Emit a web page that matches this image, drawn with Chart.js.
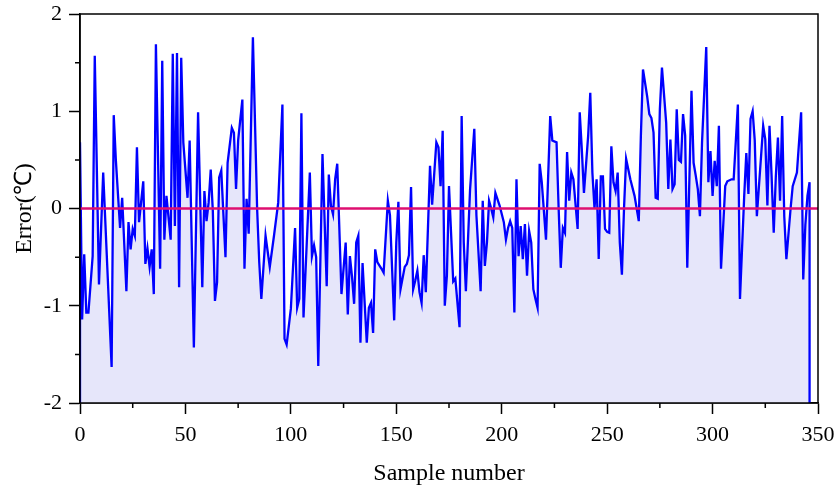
<!DOCTYPE html>
<html>
<head>
<meta charset="utf-8">
<script src="https://cdn.jsdelivr.net/npm/chart.js@4.4.1/dist/chart.umd.min.js"></script>
<style>
  html, body { margin: 0; padding: 0; background: #ffffff; }
  #wrap { width: 838px; height: 495px; }
</style>
</head>
<body>
<div id="wrap"><canvas id="c" width="838" height="495"></canvas></div>
<script>
// ---- Data ----
const sampleIdx = [
  0, 0, 1, 2, 3, 4, 6, 7, 9, 11, 15, 16, 17, 19, 20, 22, 23, 24, 25, 26, 27, 28, 30, 31, 32, 33, 34, 35,
  36, 38, 39, 40, 41, 43, 44, 45, 46, 47, 48, 49, 51, 52, 54, 56, 58, 59, 60, 61, 62, 63, 64, 65, 66, 67, 69,
  70, 72, 73, 74, 75, 77, 78, 79, 80, 82, 84, 85, 86, 88, 90, 92, 94, 96, 97, 98, 100, 102, 103, 104,
  105, 106, 109, 110, 111, 112, 113, 115, 117, 118, 119, 120, 121, 122, 124, 126, 127, 128, 129, 130,
  131, 132, 133, 134, 136, 137, 138, 139, 140, 141, 143, 144, 146, 147, 149, 150, 151, 152, 154, 155,
  156, 157, 158, 159, 160, 161, 162, 163, 164, 166, 167, 169, 170, 171, 172, 173, 174, 175, 177, 178,
  180, 181, 182, 183, 185, 187, 188, 190, 191, 192, 193, 194, 195, 196, 197, 199, 201, 202, 203, 204,
  205, 206, 207, 208, 209, 210, 211, 212, 213, 214, 215, 216, 217, 218, 219, 221, 223, 224, 226, 227,
  228, 229, 230, 231, 232, 233, 234, 236, 237, 238, 239, 241, 242, 243, 244, 245, 246, 247, 248, 249,
  250, 251, 252, 253, 254, 255, 256, 257, 258, 259, 261, 263, 265, 266, 267, 269, 270, 271, 272, 273,
  274, 275, 276, 278, 279, 280, 281, 282, 283, 284, 285, 286, 287, 288, 290, 291, 292, 293, 294, 295,
  297, 298, 299, 300, 301, 302, 303, 304, 306, 307, 309, 310, 312, 313, 315, 316, 317, 318, 319, 320,
  321, 323, 324, 325, 326, 327, 328, 329, 330, 331, 332, 333, 334, 335, 337, 338, 340, 341, 342, 343,
  344, 345, 346, 346
];
const errorVals = [
  -2, 0.68, -1.14, -0.47, -1.07, -1.07, -0.49, 1.57, -0.78, 0.37, -1.63, 0.96, 0.5, -0.2, 0.11, -0.85, -0.14, -0.42, -0.21, -0.28, 0.63, -0.14, 0.28, -0.57, -0.41, -0.6, -0.42, -0.88,
  1.69, -0.62, 1.52, -0.32, 0.13, -0.32, 1.59, -0.18, 1.6, -0.81, 1.55, 0.68, 0.11, 0.7, -1.43, 0.99, -0.81, 0.18, -0.13, 0.06, 0.4, -0.03, -0.95, -0.76, 0.32, 0.39, -0.5,
  0.47, 0.83, 0.78, 0.2, 0.7, 1.12, -0.62, 0.1, -0.26, 1.76, 0.0, -0.55, -0.93, -0.28, -0.6, -0.28, 0.06, 1.07, -1.34, -1.4, -1.03, -0.2, -1.02, -0.93,
  0.98, -1.12, 0.37, -0.49, -0.38, -0.5, -1.62, 0.56, -0.8, 0.35, 0.03, -0.06, 0.3, 0.46, -0.88, -0.35, -1.09, -0.49, -0.7, -0.98,
  -0.35, -0.28, -1.38, -0.56, -1.38, -1.02, -0.97, -1.28, -0.42, -0.55, -0.62, -0.66, 0.08, -0.07, -1.15, -0.35, 0.07, -0.83, -0.6, -0.57,
  -0.48, 0.22, -0.83, -0.74, -0.64, -0.86, -0.97, -0.48, -0.86, 0.44, 0.04, 0.68, 0.63, 0.23, 0.8, -1.0, -0.69, 0.23, -0.75, -0.72,
  -1.22, 0.95, -0.35, -0.85, 0.2, 0.82, -0.07, -0.85, 0.08, -0.59, -0.35, 0.08, 0.0, -0.09, 0.16, 0.03, -0.14, -0.32, -0.2, -0.13,
  -0.2, -1.07, 0.3, -0.49, -0.18, -0.52, -0.16, -0.69, -0.23, -0.35, -0.83, -0.93, -1.02, 0.46, 0.27, -0.32, 0.95, 0.7, 0.68, 0.0,
  -0.61, -0.2, -0.25, 0.58, 0.08, 0.37, 0.3, -0.21, 0.99, 0.6, 0.16, 0.75, 1.19, 0.37, 0.0, 0.3, -0.52, 0.33, 0.33, -0.21,
  -0.24, -0.25, 0.64, 0.27, 0.18, 0.37, -0.35, -0.68, 0.0, 0.51, 0.3, 0.13, -0.13, 0.75, 1.43, 1.15, 0.97, 0.93, 0.78, 0.11,
  0.1, 1.02, 1.45, 0.88, 0.2, 0.71, 0.2, 0.25, 1.02, 0.5, 0.48, 0.97, 0.75, -0.61, 1.21, 0.47, 0.34, 0.2, -0.08, 0.68,
  1.66, 0.27, 0.59, 0.13, 0.49, 0.23, 0.85, -0.62, 0.23, 0.28, 0.3, 0.3, 1.07, -0.93, 0.13, 0.57, 0.15, 0.92, 1.0, 0.7,
  -0.08, 0.54, 0.85, 0.71, 0.03, 0.85, 0.33, -0.25, 0.33, 0.73, 0.08, 0.95, -0.08, -0.52, 0.0, 0.23, 0.37, 0.68, 0.99, -0.73,
  -0.17, 0.13, 0.27, -2
];
const zeroLineX = [0, 350];
const zeroLineY = [0, 0];
const xTickValues = [0, 50, 100, 150, 200, 250, 300, 350];
const xMinorTicks = [25, 75, 125, 175, 225, 275, 325];
const yTickValues = [-2, -1, 0, 1, 2];
const yMinorTicks = [-1.5, -0.5, 0.5, 1.5];
const xTitle = 'Sample number';
const yTitle = 'Error(℃)';

const errorData = sampleIdx.map((x, i) => ({ x: x, y: errorVals[i] }));
const zeroData = zeroLineX.map((x, i) => ({ x: x, y: zeroLineY[i] }));

const FONT = '"Liberation Serif", "Times New Roman", serif';

const framePlugin = {
  id: 'frame',
  afterDraw(chart) {
    const { ctx, chartArea: a, scales } = chart;
    ctx.save();
    ctx.strokeStyle = '#000';
    ctx.lineWidth = 1.5;
    ctx.strokeRect(a.left, a.top, a.right - a.left, a.bottom - a.top);
    // minor ticks
    ctx.beginPath();
    xMinorTicks.forEach(v => {
      const px = scales.x.getPixelForValue(v);
      ctx.moveTo(px, a.bottom);
      ctx.lineTo(px, a.bottom + 5);
    });
    yMinorTicks.forEach(v => {
      const py = scales.y.getPixelForValue(v);
      ctx.moveTo(a.left, py);
      ctx.lineTo(a.left - 5, py);
    });
    ctx.stroke();
    ctx.restore();
  }
};

new Chart(document.getElementById('c'), {
  type: 'line',
  data: {
    datasets: [
      {
        label: 'zero',
        data: zeroData,
        borderColor: '#de0f70',
        borderWidth: 2.5,
        pointRadius: 0,
        fill: false,
        order: 0
      },
      {
        label: 'Error',
        data: errorData,
        borderColor: '#0000ff',
        backgroundColor: '#e6e6fa',
        borderWidth: 2.3,
        pointRadius: 0,
        tension: 0,
        fill: 'start',
        order: 1
      }
    ]
  },
  options: {
    responsive: false,
    animation: false,
    devicePixelRatio: 1,
    layout: { padding: { top: 14, right: 20, left: 0, bottom: 0 } },
    plugins: { legend: { display: false }, tooltip: { enabled: false } },
    scales: {
      x: {
        type: 'linear',
        min: 0, max: 350,
        afterBuildTicks(scale) { scale.ticks = xTickValues.map(v => ({ value: v })); },
        afterFit(scale) { scale.height = 92; scale.paddingLeft = 0; scale.paddingRight = 0; },
        grid: { display: true, drawOnChartArea: false, tickLength: 11, tickWidth: 1.5, tickColor: '#000' },
        border: { display: true, color: '#000', width: 1.5 },
        ticks: { color: '#000', font: { family: FONT, size: 22 }, padding: 8, maxRotation: 0 },
        title: { display: true, text: xTitle, color: '#000', font: { family: FONT, size: 24 }, padding: { top: 4, bottom: 7 } }
      },
      y: {
        type: 'linear',
        min: -2, max: 2,
        afterBuildTicks(scale) { scale.ticks = yTickValues.map(v => ({ value: v })); },
        afterFit(scale) { scale.width = 80; scale.paddingTop = 0; scale.paddingBottom = 0; },
        grid: { display: true, drawOnChartArea: false, tickLength: 11, tickWidth: 1.5, tickColor: '#000' },
        border: { display: true, color: '#000', width: 1.5 },
        ticks: { color: '#000', font: { family: FONT, size: 22 }, padding: 7 },
        title: { display: true, text: yTitle, color: '#000', font: { family: FONT, size: 24 }, padding: { top: 10, bottom: 0 } }
      }
    }
  },
  plugins: [framePlugin]
});
</script>
</body>
</html>
